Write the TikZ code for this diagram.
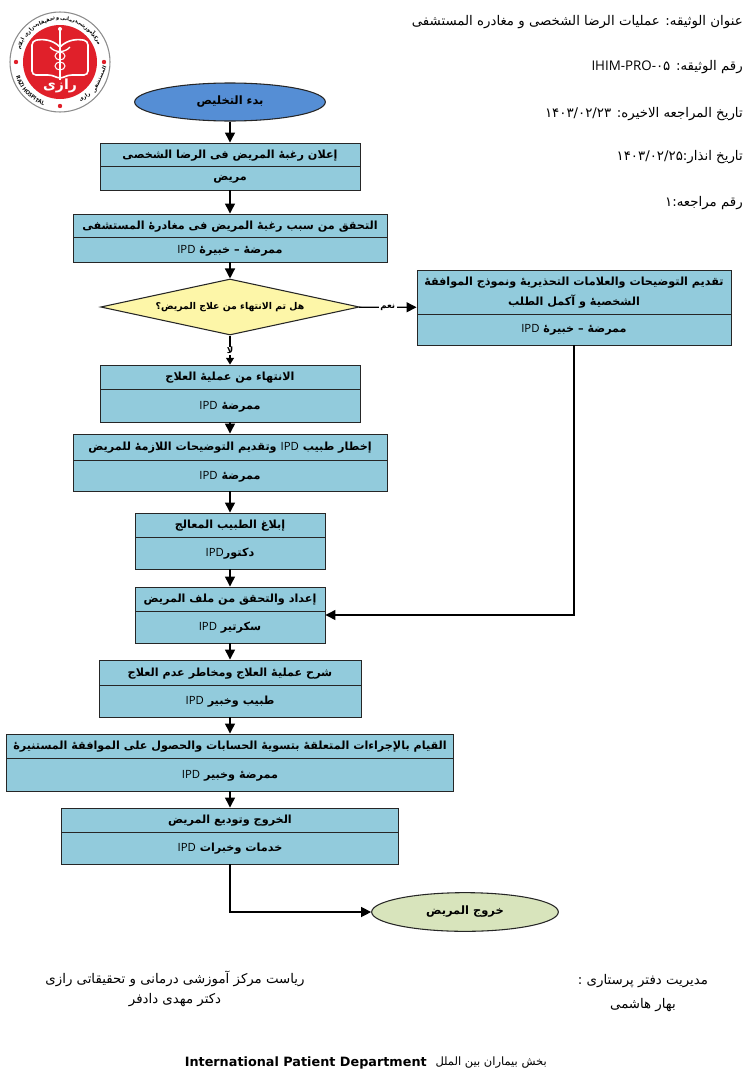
\documentclass[tikz,border=0pt]{standalone}
\usepackage{fontspec}
\usepackage{xcolor}
\usetikzlibrary{arrows.meta,calc,fit,shapes,decorations.text}
\TeXXeTstate=1
\setmainfont{DejaVu Sans}
\newfontfamily\arabicfont[Script=Arabic]{DejaVu Sans}
\newfontfamily\latinfont{Open Sans}
\definecolor{boxblue}{HTML}{92CBDC}
\definecolor{startblue}{HTML}{558ED5}
\definecolor{decyellow}{HTML}{FDF6A8}
\definecolor{endgreen}{HTML}{D8E4BC}
\definecolor{logored}{HTML}{E0202A}
\newcommand{\ar}[1]{{\beginR #1\endR}}
\newcommand{\ipd}{\beginL{\latinfont\mdseries\fontsize{8.5}{10}\selectfont IPD}\endL{}}
\tikzset{
	boxbody/.style={rectangle,draw=black!85,line width=.7pt,fill=boxblue,inner sep=0pt},
	boxtext/.style={inner sep=0pt,align=center,yshift=-.7pt,font=\arabicfont\bfseries\fontsize{8.4}{15}\selectfont},
	arw/.style={line width=1pt,-{Triangle[width=7.5pt,length=7.5pt]}},
	headtext/.style={anchor=east,inner sep=0pt,yshift=-1.2pt,font=\arabicfont\fontsize{10}{12}\selectfont},
	foottext/.style={inner sep=0pt,yshift=-.8pt,font=\arabicfont\fontsize{10}{12}\selectfont},
	logotext/.style={inner sep=0pt,font=\arabicfont\bfseries\fontsize{3.8}{4}\selectfont},
}
\newcommand{\stepBox}[8]{
	\node[boxbody,fit={(#2,#3) (#5,#6)}] (#1) {};
	\draw[line width=.7pt,black!85] (#2,#4) -- (#5,#4);
	\node[boxtext] (#1t) at ($(#2,#3)!.5!(#5,#4)$) {#7};
	\node[boxtext] (#1r) at ($(#2,#4)!.5!(#5,#6)$) {#8};
}
\begin{document}
\begin{tikzpicture}[x=.75pt,y=-.75pt]
	\useasboundingbox (0,0) rectangle (752,1085);
	% logo
	\begin{scope}[shift={(60,62)},yscale=-1]
		\filldraw[draw=black!45,line width=.8pt,fill=white] (0,0) circle (50);
		\fill[logored] (0,0) circle (37);
		\draw[white,line width=1.2pt,rounded corners=3pt] (0,15) .. controls (-8,23) and (-18,23) .. (-28,21) -- (-28,-13) -- (-8,-13) -- (0,-17) -- (8,-13) -- (28,-13) -- (28,21) .. controls (18,23) and (8,23) .. (0,15);
		\draw[white,line width=1pt] (0,33) -- (0,-18);
		\fill[white] (0,33) circle (2);
		\draw[white,line width=.8pt] (0,6) ellipse (5 and 4) (0,-4) ellipse (5 and 4);
		\draw[white,line width=1pt] (-10,15) .. controls (-5,9) and (5,9) .. (10,15);
		\foreach \a in {180,0,-90}
			\fill[logored] (\a:44) circle (2.2);
		\node[text=white,inner sep=0pt,font=\arabicfont\bfseries\fontsize{10.5}{12}\selectfont] (logoname) at (0,-24) {\ar{رازی}};
		\foreach \w/\a [count=\i] in {مرکز/32,آموزشی/53,درمانی/78,و/93,تحقیقاتی/112,رازی/136,ایلام/155}
			\node[logotext,rotate=\a-90] (logotop\i) at (\a:43) {\ar{\w}};
		\foreach \w/\a [count=\i] in {المستشفی/-24,رازی/-55}
			\node[logotext,rotate=\a+90] (logobot\i) at (\a:43) {\ar{\w}};
		\path[decorate,decoration={text along path,text={|\latinfont\bfseries\fontsize{4.2}{5}\selectfont|RAZI HOSPITAL},text align=center}] (190:46.5) arc (190:258:46.5);
	\end{scope}
	% header
	\node[headtext] (title) at (743,20) {\ar{عنوان الوثیقه: عملیات الرضا الشخصی  و مغادره المستشفی}};
	\node[headtext] (docno) at (743,65) {\ar{رقم الوثیقه: \beginL{\latinfont IHIM-PRO-}\arabicfont ۰۵\endL{}}};
	\node[headtext] (revdate) at (743,112) {\ar{تاریخ المراجعه الاخیره: \beginL ۱۴۰۳/۰۲/۲۳\endL{}}};
	\node[headtext] (warndate) at (743,155) {\ar{تاریخ انذار:\beginL ۱۴۰۳/۰۲/۲۵\endL{}}};
	\node[headtext] (revno) at (743,201) {\ar{رقم مراجعه:۱}};
	% flow
	\node[ellipse,draw=black!85,line width=.8pt,fill=startblue,minimum width=143pt,minimum height=28.5pt,inner sep=0pt,font=\arabicfont\bfseries\fontsize{8.6}{10}\selectfont] (start) at (230,102) {\ar{بدء التخلیص}};
	\stepBox{b1}{100}{143}{166}{360}{190}{\ar{إعلان رغبهٔ المریض فی الرضا الشخصی}}{\ar{مریض}}
	\stepBox{b2}{73}{214}{237}{387}{262}{\ar{التحقق من سبب رغبهٔ المریض فی مغادرهٔ المستشفی}}{\ar{ممرضهٔ – خبیرهٔ \ipd}}
	\node[diamond,draw=black!85,line width=.8pt,fill=decyellow,minimum width=194pt,minimum height=42pt,aspect=4.6,inner sep=0pt,font=\arabicfont\bfseries\fontsize{7}{8}\selectfont] (dec) at (230,307) {\ar{هل تم الانتهاء من علاج المریض؟}};
	\node[boxbody,fit={(417,270) (731,345)}] (side) {};
	\draw[line width=.7pt,black!85] (417,314) -- (731,314);
	\node[boxtext] (sidet) at (574,292) {\ar{تقدیم التوضیحات والعلامات التحذیریهٔ ونموذج الموافقهٔ}\\\ar{الشخصیهٔ و آکمل الطلب}};
	\node[boxtext] (sider) at (574,329) {\ar{ممرضهٔ – خبیرهٔ \ipd}};
	\stepBox{b3}{100}{365}{389}{360}{422}{\ar{الانتهاء من عملیهٔ العلاج}}{\ar{ممرضهٔ \ipd}}
	\stepBox{b4}{73}{434}{460}{387}{491}{\ar{إخطار طبیب \ipd{} وتقدیم التوضیحات اللازمهٔ للمریض}}{\ar{ممرضهٔ \ipd}}
	\stepBox{b5}{135}{513}{537}{325}{569}{\ar{إبلاغ الطبیب المعالج}}{\ar{دکتور\ipd}}
	\stepBox{b6}{135}{587}{611}{325}{643}{\ar{إعداد والتحقق من ملف المریض}}{\ar{سکرتیر \ipd}}
	\stepBox{b7}{99}{660}{685}{361}{717}{\ar{شرح عملیهٔ العلاج ومخاطر عدم العلاج}}{\ar{طبیب وخبیر \ipd}}
	\stepBox{b8}{6.5}{734}{758}{453.5}{791}{\ar{القیام بالإجراءات المتعلقهٔ بتسویهٔ الحسابات والحصول علی الموافقهٔ المستنیرهٔ}}{\ar{ممرضهٔ وخبیر \ipd}}
	\stepBox{b9}{61.5}{808}{832}{398.5}{864}{\ar{الخروج وتودیع المریض}}{\ar{خدمات وخبرات \ipd}}
	\node[ellipse,draw=black!85,line width=.8pt,fill=endgreen,minimum width=140pt,minimum height=29pt,inner sep=0pt,font=\arabicfont\bfseries\fontsize{8.6}{10}\selectfont] (finish) at (465,912) {\ar{خروج المریض}};
	\foreach \a/\b in {start/b1,b1/b2,b2/dec,b3/b4,b4/b5,b5/b6,b6/b7,b7/b8,b8/b9}
		\draw[arw] (\a) -- (\b);
	\draw[arw] (dec) -- (side) node[midway,fill=white,inner sep=1pt,font=\arabicfont\bfseries\fontsize{6.5}{7}\selectfont] (yes) {\ar{نعم}};
	\draw[line width=.8pt,-{Triangle[width=6pt,length=5pt]}] (dec) -- (b3) node[pos=.52,fill=white,inner sep=.5pt,font=\arabicfont\bfseries\fontsize{6.5}{7}\selectfont] (no) {\ar{لا}};
	\draw[arw] (side.south) |- (b6.east);
	\draw[arw] (b9.south) |- (finish.west);
	% signatures
	\node[foottext] (boss) at (175,978) {\ar{ریاست مرکز آموزشی درمانی و تحقیقاتی رازی}};
	\node[foottext] (bossname) at (175,999) {\ar{دکتر مهدی دادفر}};
	\node[foottext] (nurse) at (643,980) {\ar{مدیریت دفتر پرستاری :}};
	\node[foottext] (nursename) at (643,1004) {\ar{بهار هاشمی}};
	\node[inner sep=0pt,anchor=east,font=\arabicfont\fontsize{8.6}{10}\selectfont] (deptfa) at (547,1063) {\ar{بخش بیماران بین الملل}};
	\node[inner sep=0pt,anchor=east,font=\bfseries\fontsize{9.6}{11}\selectfont] (depten) at (427,1063) {International Patient Department};
\end{tikzpicture}
\end{document}
